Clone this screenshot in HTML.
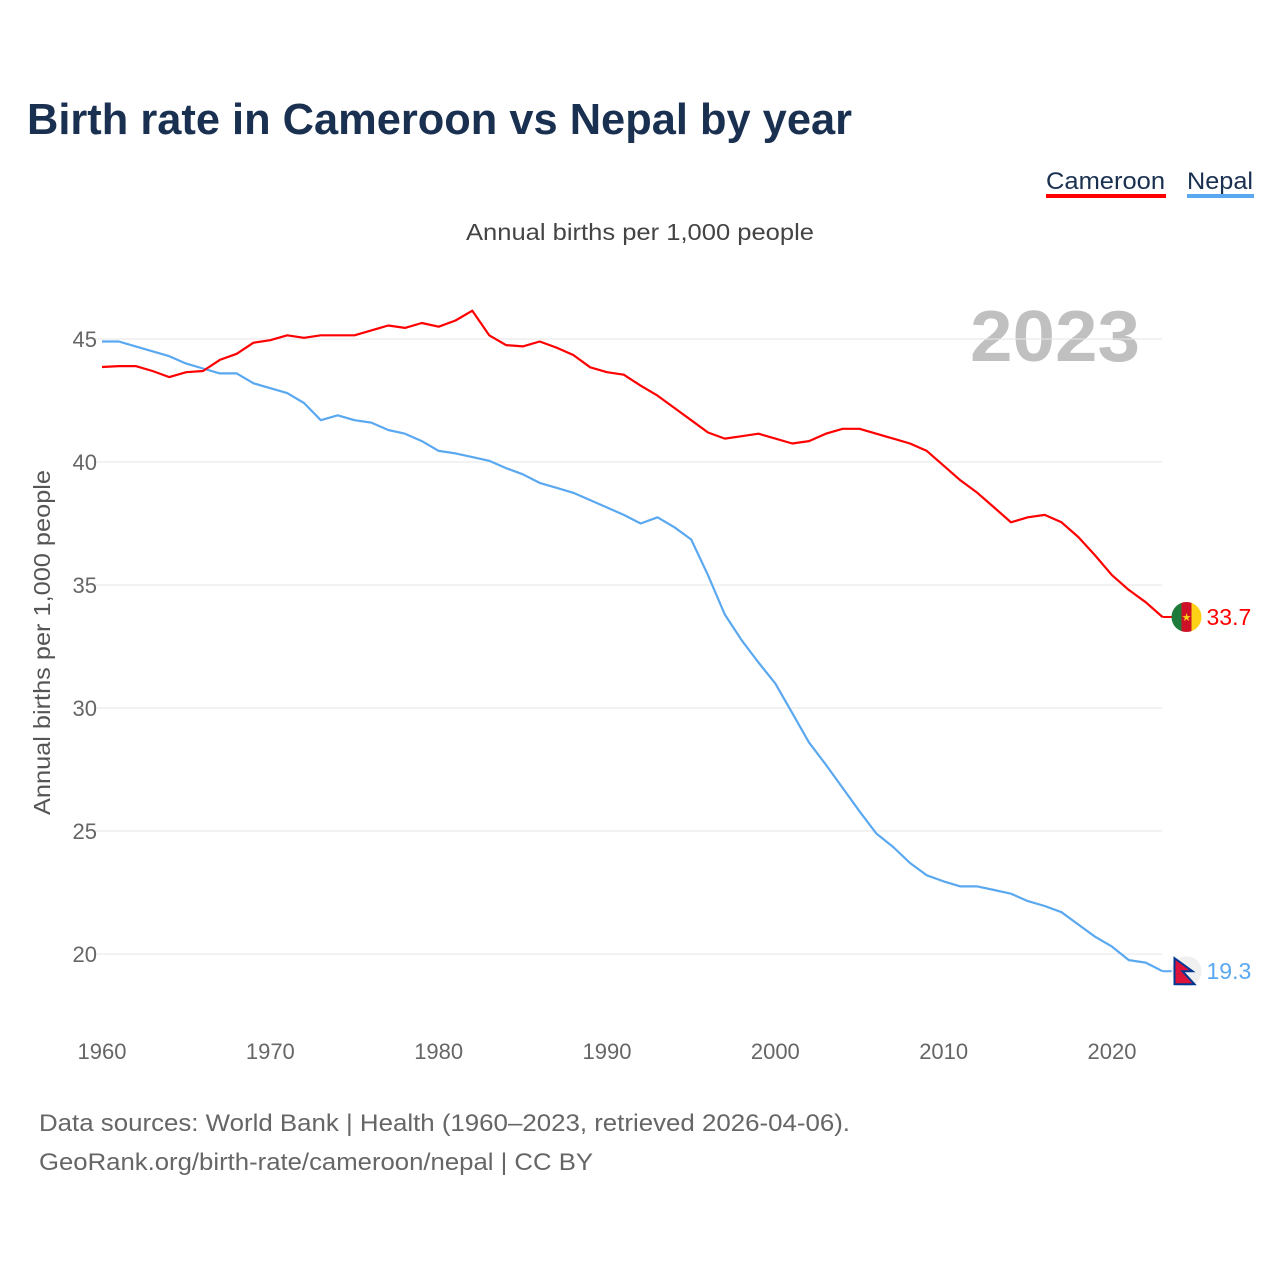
<!DOCTYPE html>
<html><head><meta charset="utf-8"><style>
body{margin:0;background:#fff;font-family:"Liberation Sans",sans-serif}
svg text{font-family:"Liberation Sans",sans-serif}
</style></head><body>
<svg id="chart" width="1280" height="1280" xmlns="http://www.w3.org/2000/svg">
<text x="27" y="134" font-size="44" font-weight="bold" fill="#1a3050" textLength="825" lengthAdjust="spacingAndGlyphs">Birth rate in Cameroon vs Nepal by year</text>
<g><text x="1046" y="189" font-size="24" fill="#1a3050" textLength="119" lengthAdjust="spacingAndGlyphs">Cameroon</text><rect x="1046" y="194" width="120" height="4" fill="#ff0000"/></g>
<g><text x="1187" y="189" font-size="24" fill="#1a3050" textLength="66" lengthAdjust="spacingAndGlyphs">Nepal</text><rect x="1187" y="194" width="67" height="4" fill="#5aa8f0"/></g>
<text x="466" y="240" font-size="23" fill="#444" textLength="348" lengthAdjust="spacingAndGlyphs">Annual births per 1,000 people</text>
<text x="970" y="361" font-size="72" font-weight="bold" fill="#c0c0c0" textLength="170" lengthAdjust="spacingAndGlyphs">2023</text>
<text transform="translate(50,815) rotate(-90)" font-size="23" fill="#555" textLength="345" lengthAdjust="spacingAndGlyphs">Annual births per 1,000 people</text>
<g id="grid"></g><g id="lines"></g><g id="ends"></g>
<text x="39" y="1131" font-size="24" fill="#666" textLength="811" lengthAdjust="spacingAndGlyphs">Data sources: World Bank | Health (1960–2023, retrieved 2026-04-06).</text>
<text x="39" y="1170" font-size="24" fill="#666" textLength="554" lengthAdjust="spacingAndGlyphs">GeoRank.org/birth-rate/cameroon/nepal | CC BY</text>
</svg>
<script>
const years=[];for(let y=1960;y<=2023;y++)years.push(y);
const cameroon=[43.86,43.9,43.9,43.7,43.45,43.65,43.7,44.15,44.4,44.85,44.95,45.15,45.05,45.15,45.15,45.15,45.35,45.55,45.45,45.65,45.5,45.75,46.15,45.15,44.75,44.7,44.9,44.65,44.35,43.85,43.65,43.55,43.1,42.7,42.2,41.7,41.2,40.95,41.05,41.15,40.95,40.75,40.85,41.15,41.35,41.35,41.15,40.95,40.75,40.45,39.85,39.25,38.75,38.15,37.55,37.75,37.85,37.55,36.95,36.2,35.4,34.8,34.3,33.7];
const nepal=[44.9,44.9,44.7,44.5,44.3,44.0,43.8,43.6,43.6,43.2,43.0,42.8,42.4,41.7,41.9,41.7,41.6,41.3,41.15,40.85,40.45,40.35,40.2,40.05,39.75,39.5,39.15,38.95,38.75,38.45,38.15,37.85,37.5,37.75,37.35,36.85,35.4,33.8,32.75,31.85,31.0,29.8,28.6,27.7,26.75,25.8,24.9,24.35,23.7,23.2,22.95,22.75,22.75,22.6,22.45,22.15,21.95,21.7,21.2,20.7,20.3,19.75,19.65,19.3];
const yTicks=[20,25,30,35,40,45];
const xTicks=[1960,1970,1980,1990,2000,2010,2020];
const NS="http://www.w3.org/2000/svg";
const X=v=>102+(v-1960)*(1010/60);
const Y=v=>954-(v-20)*(615/25);
function mk(t,a,p){const e=document.createElementNS(NS,t);for(const k in a)e.setAttribute(k,a[k]);p.appendChild(e);return e;}
const grid=document.getElementById('grid');
yTicks.forEach(t=>{
 const l=mk('line',{x1:95,x2:1162,y1:Y(t),y2:Y(t),stroke:'#e6e6e6','stroke-width':1},grid);
 
 
 const tx=mk('text',{x:97,y:Y(t)+8,'font-size':22,fill:'#666','text-anchor':'end'},grid);tx.textContent=t;
 
 
});
xTicks.forEach(t=>{
 const tx=mk('text',{x:X(t),y:1059,'font-size':22,fill:'#666','text-anchor':'middle'},grid);tx.textContent=t;
 
 
});
const lines=document.getElementById('lines');
function draw(data,color,name){
 const p=mk('path',{d:data.map((v,i)=>(i?'L':'M')+X(years[i]).toFixed(1)+','+Y(v).toFixed(1)).join(''),fill:'none',stroke:color,'stroke-width':2.2,'stroke-linejoin':'round'},lines);
 
 
}
draw(nepal,'#5aa8f0','nepal-line');
draw(cameroon,'#ff0000','cameroon-line');
const ends=document.getElementById('ends');
function end(data,color,name,flag){
 const v=data[data.length-1],y=Y(v),x=X(years[years.length-1]);
 mk('line',{x1:x,x2:x+12,y1:y,y2:y,stroke:color,'stroke-width':2},ends);
 const g=mk('g',{},ends);
 
 
 flag(g,x+24,y);
 const t=mk('text',{x:x+44,y:y+8,'font-size':23,fill:color},ends);t.textContent=v.toFixed(1);
 
 
}
end(cameroon,'#ff0000','cameroon',(g,cx,cy)=>{
 mk('clipPath',{id:'cc'},g);mk('circle',{cx,cy,r:15},g.lastChild);
 const h=mk('g',{'clip-path':'url(#cc)'},g);
 mk('rect',{x:cx-15,y:cy-15,width:10,height:30,fill:'#1e7a3a'},h);
 mk('rect',{x:cx-5,y:cy-15,width:10,height:30,fill:'#ce1126'},h);
 mk('rect',{x:cx+5,y:cy-15,width:10,height:30,fill:'#fcd116'},h);
 mk('text',{x:cx,y:cy+4,'font-size':11,fill:'#fcd116','text-anchor':'middle'},h).textContent='★';
});
end(nepal,'#5aa8f0','nepal',(g,cx,cy)=>{
 mk('circle',{cx,cy,r:15,fill:'#f0f0f0'},g);
 mk('path',{d:`M${cx-12},${cy-13} L${cx+6},${cy} L${cx-4},${cy} L${cx+8},${cy+13} L${cx-12},${cy+13}Z`,fill:'#dc143c',stroke:'#003893','stroke-width':2},g);
});
</script>
</body></html>
